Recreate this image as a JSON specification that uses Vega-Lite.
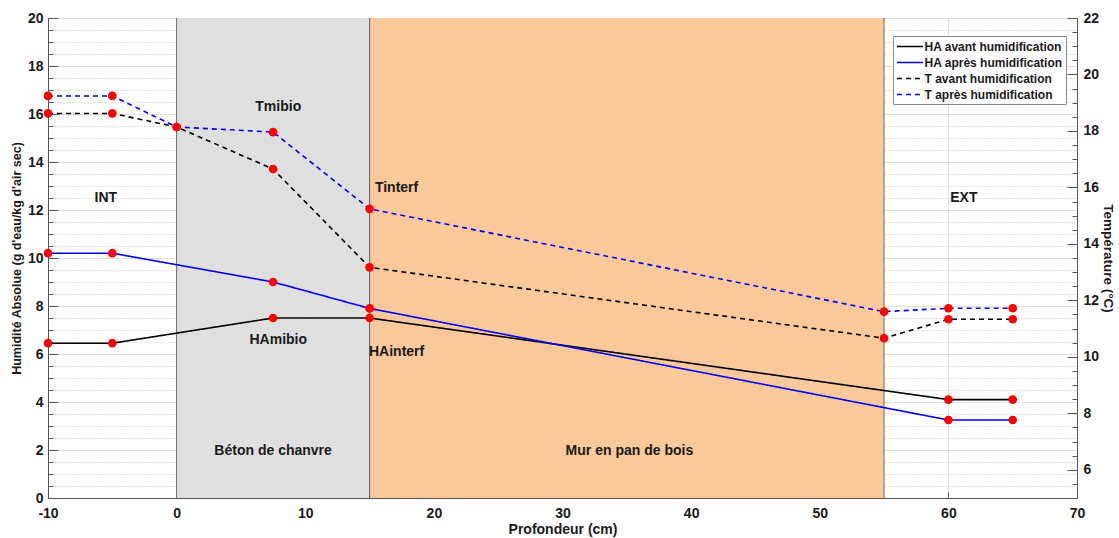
{
  "$schema": "https://vega.github.io/schema/vega-lite/v6.json",
  "width": 1029,
  "height": 480,
  "autosize": {"type": "none"},
  "padding": {"left": 48, "top": 18, "right": 42, "bottom": 40},
  "config": {
    "font": "Liberation Sans",
    "view": {"stroke": null},
    "axis": {
      "labelFont": "Liberation Sans",
      "labelFontWeight": "bold",
      "labelFontSize": 14,
      "labelColor": "#1a1a1a",
      "titleFont": "Liberation Sans",
      "titleFontWeight": "bold",
      "titleColor": "#1a1a1a",
      "domainColor": "#555555",
      "tickColor": "#555555",
      "labelFlush": false,
      "zindex": 1
    },
    "legend": {
      "orient": "none", "legendX": 845, "legendY": 18, "title": null,
      "symbolType": "M-2,0H2", "symbolSize": 169, "symbolStrokeWidth": 1.6, "symbolOffset": 6.5,
      "labelFontSize": 12, "labelFontWeight": "bold", "labelFont": "Liberation Sans", "labelColor": "#1a1a1a", "labelOffset": 7,
      "strokeColor": "#888888", "fillColor": "#ffffff", "padding": 3, "rowPadding": 2
    }
  },
  "datasets": {
    "ha": [
      {"x": -10, "val": 6.45, "serie": "HA avant humidification"},
      {"x": -5, "val": 6.45, "serie": "HA avant humidification"},
      {"x": 7.5, "val": 7.5, "serie": "HA avant humidification"},
      {"x": 15, "val": 7.5, "serie": "HA avant humidification"},
      {"x": 60, "val": 4.1, "serie": "HA avant humidification"},
      {"x": 65, "val": 4.1, "serie": "HA avant humidification"},
      {"x": -10, "val": 10.2, "serie": "HA après humidification"},
      {"x": -5, "val": 10.2, "serie": "HA après humidification"},
      {"x": 7.5, "val": 9.0, "serie": "HA après humidification"},
      {"x": 15, "val": 7.9, "serie": "HA après humidification"},
      {"x": 60, "val": 3.25, "serie": "HA après humidification"},
      {"x": 65, "val": 3.25, "serie": "HA après humidification"}
    ],
    "t": [
      {"x": -10, "val": 18.62, "serie": "T avant humidification"},
      {"x": -5, "val": 18.62, "serie": "T avant humidification"},
      {"x": 0, "val": 18.14, "serie": "T avant humidification"},
      {"x": 7.5, "val": 16.65, "serie": "T avant humidification"},
      {"x": 15, "val": 13.17, "serie": "T avant humidification"},
      {"x": 55, "val": 10.66, "serie": "T avant humidification"},
      {"x": 60, "val": 11.33, "serie": "T avant humidification"},
      {"x": 65, "val": 11.33, "serie": "T avant humidification"},
      {"x": -10, "val": 19.24, "serie": "T après humidification"},
      {"x": -5, "val": 19.24, "serie": "T après humidification"},
      {"x": 0, "val": 18.14, "serie": "T après humidification"},
      {"x": 7.5, "val": 17.96, "serie": "T après humidification"},
      {"x": 15, "val": 15.24, "serie": "T après humidification"},
      {"x": 55, "val": 11.6, "serie": "T après humidification"},
      {"x": 60, "val": 11.72, "serie": "T après humidification"},
      {"x": 65, "val": 11.72, "serie": "T après humidification"}
    ],
    "zones": [
      {"start": 0, "end": 15, "zone": "Béton de chanvre"},
      {"start": 15, "end": 55, "zone": "Mur en pan de bois"}
    ],
    "labels": [
      {"x": -5.5, "y": 12.5, "label": "INT"},
      {"x": 7.9, "y": 16.3, "label": "Tmibio"},
      {"x": 17.1, "y": 12.9, "label": "Tinterf"},
      {"x": 7.9, "y": 6.6, "label": "HAmibio"},
      {"x": 17.1, "y": 6.1, "label": "HAinterf"},
      {"x": 7.5, "y": 1.95, "label": "Béton de chanvre"},
      {"x": 35.2, "y": 1.95, "label": "Mur en pan de bois"},
      {"x": 61.2, "y": 12.5, "label": "EXT"}
    ]
  },
  "resolve": {"scale": {"y": "independent"}},
  "layer": [
    {
      "resolve": {"axis": {"y": "independent"}},
      "layer": [
        {
          "data": {"name": "zones"},
          "mark": {"type": "rect"},
          "encoding": {
            "x": {"field": "start", "type": "quantitative", "scale": {"domain": [-10, 70], "nice": false, "zero": false},
              "axis": {"values": [-10, 0, 10, 20, 30, 40, 50, 60, 70], "format": "d", "labelExpr": "replace(datum.label, '\u2212', '-')", "labelFlush": false, "grid": true, "gridColor": "#000000", "gridOpacity": 0.12, "tickSize": -6, "labelPadding": 14, "title": "Profondeur (cm)", "titleFontSize": 14, "titlePadding": 2}},
            "x2": {"field": "end"},
            "fill": {"field": "zone", "type": "nominal", "scale": {"domain": ["Béton de chanvre", "Mur en pan de bois"], "range": ["#dfdfdf", "#f9c89b"]}, "legend": null}
          }
        },
        {
          "data": {"name": "zones"},
          "mark": {"type": "rule", "color": "#6a6a6a", "strokeWidth": 1},
          "encoding": {
            "x": {"field": "start", "type": "quantitative", "scale": {"domain": [-10, 70], "nice": false, "zero": false},
              "axis": {"values": [-10, 0, 10, 20, 30, 40, 50, 60, 70], "format": "d", "labelExpr": "replace(datum.label, '\u2212', '-')", "labelFlush": false, "grid": true, "gridColor": "#000000", "gridOpacity": 0.12, "tickSize": -6, "labelPadding": 14, "title": "Profondeur (cm)", "titleFontSize": 14, "titlePadding": 2}}
          }
        },
        {
          "data": {"name": "zones"},
          "mark": {"type": "rule", "color": "#6a6a6a", "strokeWidth": 1},
          "encoding": {
            "x": {"field": "end", "type": "quantitative", "scale": {"domain": [-10, 70], "nice": false, "zero": false},
              "axis": {"values": [-10, 0, 10, 20, 30, 40, 50, 60, 70], "format": "d", "labelExpr": "replace(datum.label, '\u2212', '-')", "labelFlush": false, "grid": true, "gridColor": "#000000", "gridOpacity": 0.12, "tickSize": -6, "labelPadding": 14, "title": "Profondeur (cm)", "titleFontSize": 14, "titlePadding": 2}}
          }
        },
        {
          "data": {"name": "labels"},
          "mark": {"type": "text", "fontWeight": "bold", "fontSize": 14, "font": "Liberation Sans", "color": "#1a1a1a"},
          "encoding": {
            "x": {"field": "x", "type": "quantitative", "scale": {"domain": [-10, 70], "nice": false, "zero": false},
              "axis": {"values": [-10, 0, 10, 20, 30, 40, 50, 60, 70], "format": "d", "labelExpr": "replace(datum.label, '\u2212', '-')", "labelFlush": false, "grid": true, "gridColor": "#000000", "gridOpacity": 0.12, "tickSize": -6, "labelPadding": 14, "title": "Profondeur (cm)", "titleFontSize": 14, "titlePadding": 2}},
            "y": {"field": "y", "type": "quantitative", "scale": {"domain": [0, 20], "nice": false}, "axis": null},
            "text": {"field": "label"}
          }
        },
        {
          "data": {"name": "ha"},
          "mark": {"type": "line", "strokeWidth": 1.6},
          "encoding": {
            "x": {"field": "x", "type": "quantitative", "scale": {"domain": [-10, 70], "nice": false, "zero": false},
              "axis": {"values": [-10, 0, 10, 20, 30, 40, 50, 60, 70], "format": "d", "labelExpr": "replace(datum.label, '\u2212', '-')", "labelFlush": false, "grid": true, "gridColor": "#000000", "gridOpacity": 0.12, "tickSize": -6, "labelPadding": 14, "title": "Profondeur (cm)", "titleFontSize": 14, "titlePadding": 2}},
            "y": {
              "field": "val", "type": "quantitative",
              "scale": {"domain": [0, 20], "nice": false},
              "axis": {
                "orient": "left",
                "values": [0, 2, 4, 6, 8, 10, 12, 14, 16, 18, 20],
                "grid": true, "gridColor": "#000000", "gridOpacity": 0.12,
                "tickSize": -10, "labelPadding": 15,
                "title": "Humidité Absolue (g d'eau/kg d'air sec)", "titleFontSize": 12.5, "titlePadding": 4
              }
            },
            "color": {
              "field": "serie", "type": "nominal",
              "scale": {"domain": ["HA avant humidification", "HA après humidification", "T avant humidification", "T après humidification"], "range": ["#000000", "#0000ee", "#000000", "#0000ee"]}
            },
            "strokeDash": {
              "field": "serie", "type": "nominal",
              "scale": {"domain": ["HA avant humidification", "HA après humidification", "T avant humidification", "T après humidification"], "range": [[1, 0], [1, 0], [5, 4], [5, 4]]}
            }
          }
        },
        {
          "data": {"name": "ha"},
          "mark": {"type": "circle", "color": "#ff0000", "size": 75, "opacity": 1},
          "encoding": {
            "x": {"field": "x", "type": "quantitative", "scale": {"domain": [-10, 70], "nice": false, "zero": false},
              "axis": {"values": [-10, 0, 10, 20, 30, 40, 50, 60, 70], "format": "d", "labelExpr": "replace(datum.label, '\u2212', '-')", "labelFlush": false, "grid": true, "gridColor": "#000000", "gridOpacity": 0.12, "tickSize": -6, "labelPadding": 14, "title": "Profondeur (cm)", "titleFontSize": 14, "titlePadding": 2}},
            "y": {
              "field": "val", "type": "quantitative",
              "scale": {"domain": [0, 20], "nice": false},
              "axis": {
                "orient": "left",
                "values": [0.5, 1, 1.5, 2.5, 3, 3.5, 4.5, 5, 5.5, 6.5, 7, 7.5, 8.5, 9, 9.5, 10.5, 11, 11.5, 12.5, 13, 13.5, 14.5, 15, 15.5, 16.5, 17, 17.5, 18.5, 19, 19.5],
                "labels": false, "domain": false, "title": null,
                "grid": true, "gridColor": "#000000", "gridOpacity": 0.22, "gridDash": [1, 2],
                "tickSize": -5
              }
            }
          }
        }
      ]
    },
    {
      "resolve": {"axis": {"y": "independent"}},
      "layer": [
        {
          "data": {"name": "t"},
          "mark": {"type": "line", "strokeWidth": 1.6},
          "encoding": {
            "x": {"field": "x", "type": "quantitative", "scale": {"domain": [-10, 70], "nice": false, "zero": false},
              "axis": {"values": [-10, 0, 10, 20, 30, 40, 50, 60, 70], "format": "d", "labelExpr": "replace(datum.label, '\u2212', '-')", "labelFlush": false, "grid": true, "gridColor": "#000000", "gridOpacity": 0.12, "tickSize": -6, "labelPadding": 14, "title": "Profondeur (cm)", "titleFontSize": 14, "titlePadding": 2}},
            "y": {
              "field": "val", "type": "quantitative",
              "scale": {"domain": [5, 22], "nice": false, "zero": false},
              "axis": {
                "orient": "right",
                "values": [6, 8, 10, 12, 14, 16, 18, 20, 22],
                "grid": false,
                "tickSize": -10, "labelPadding": 16,
                "title": "Température (°C)", "titleFontSize": 13.5, "titlePadding": 2
              }
            },
            "color": {
              "field": "serie", "type": "nominal",
              "scale": {"domain": ["HA avant humidification", "HA après humidification", "T avant humidification", "T après humidification"], "range": ["#000000", "#0000ee", "#000000", "#0000ee"]}
            },
            "strokeDash": {
              "field": "serie", "type": "nominal",
              "scale": {"domain": ["HA avant humidification", "HA après humidification", "T avant humidification", "T après humidification"], "range": [[1, 0], [1, 0], [5, 4], [5, 4]]}
            }
          }
        },
        {
          "data": {"name": "t"},
          "mark": {"type": "circle", "color": "#ff0000", "size": 75, "opacity": 1},
          "encoding": {
            "x": {"field": "x", "type": "quantitative", "scale": {"domain": [-10, 70], "nice": false, "zero": false},
              "axis": {"values": [-10, 0, 10, 20, 30, 40, 50, 60, 70], "format": "d", "labelExpr": "replace(datum.label, '\u2212', '-')", "labelFlush": false, "grid": true, "gridColor": "#000000", "gridOpacity": 0.12, "tickSize": -6, "labelPadding": 14, "title": "Profondeur (cm)", "titleFontSize": 14, "titlePadding": 2}},
            "y": {
              "field": "val", "type": "quantitative",
              "scale": {"domain": [5, 22], "nice": false, "zero": false},
              "axis": {
                "orient": "right",
                "values": [5.5, 6.5, 7, 7.5, 8.5, 9, 9.5, 10.5, 11, 11.5, 12.5, 13, 13.5, 14.5, 15, 15.5, 16.5, 17, 17.5, 18.5, 19, 19.5, 20.5, 21, 21.5],
                "labels": false, "domain": false, "title": null, "grid": false,
                "tickSize": -5
              }
            }
          }
        }
      ]
    }
  ]
}
